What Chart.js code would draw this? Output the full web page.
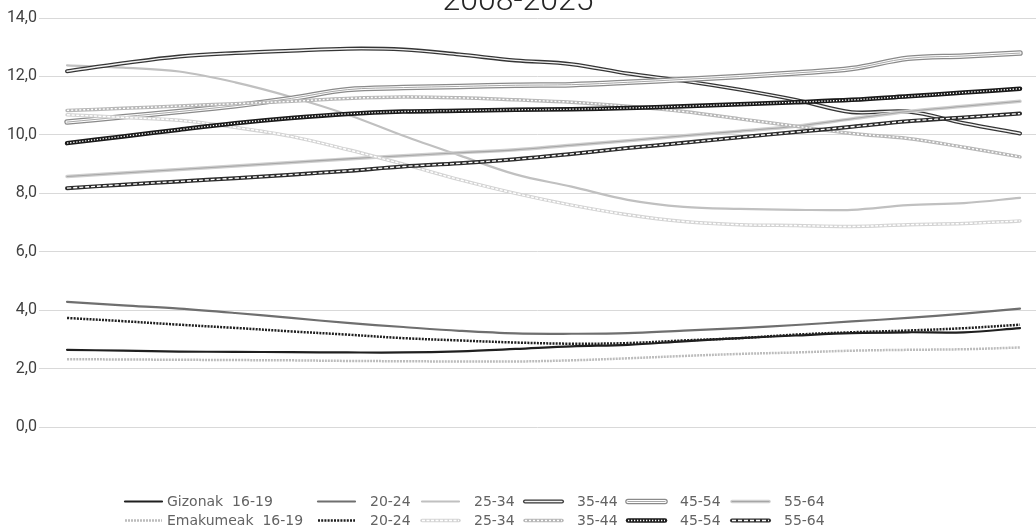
<!DOCTYPE html>
<html>
<head>
<meta charset="utf-8">
<script src="https://cdn.jsdelivr.net/npm/chart.js@4"></script>
<style>
  html, body { margin: 0; padding: 0; background: #ffffff; }
  #wrap { position: relative; width: 1036px; height: 530px; overflow: hidden; }
  #chart { position: absolute; left: 0; top: -20px; }
</style>
</head>
<body>
<div id="wrap"><canvas id="chart" width="1036" height="550"></canvas></div>
<script>
// ---------- Data ----------
const years = [2008, 2009, 2010, 2011, 2012, 2013, 2014, 2015, 2016, 2017, 2018, 2019, 2020, 2021, 2022, 2023, 2024, 2025];
const yTicks = [0, 2, 4, 6, 8, 10, 12, 14];

const seriesNames = [
  'Gizonak  16-19', '20-24', '25-34', '35-44', '45-54', '55-64',
  'Emakumeak  16-19', '20-24', '25-34', '35-44', '45-54', '55-64'
];

const gizonak16_19 = [2.65, 2.62, 2.59, 2.58, 2.57, 2.56, 2.56, 2.6, 2.68, 2.77, 2.82, 2.94, 3.05, 3.14, 3.22, 3.25, 3.25, 3.39];
const gizonak20_24 = [4.29, 4.17, 4.06, 3.91, 3.74, 3.57, 3.43, 3.3, 3.21, 3.2, 3.22, 3.31, 3.39, 3.5, 3.62, 3.74, 3.89, 4.06];
const gizonak25_34 = [12.38, 12.3, 12.17, 11.8, 11.3, 10.7, 9.97, 9.3, 8.65, 8.23, 7.78, 7.54, 7.47, 7.44, 7.44, 7.6, 7.67, 7.85];
const gizonak35_44 = [12.18, 12.45, 12.68, 12.8, 12.88, 12.95, 12.92, 12.75, 12.55, 12.42, 12.1, 11.85, 11.55, 11.2, 10.78, 10.8, 10.4, 10.05];
const gizonak45_54 = [10.44, 10.62, 10.8, 11.0, 11.25, 11.55, 11.62, 11.66, 11.7, 11.72, 11.8, 11.9, 12.0, 12.12, 12.27, 12.62, 12.7, 12.8];
const gizonak55_64 = [8.58, 8.7, 8.82, 8.94, 9.06, 9.18, 9.29, 9.39, 9.49, 9.65, 9.8, 9.97, 10.13, 10.3, 10.55, 10.8, 10.98, 11.15];

const emakumeak16_19 = [2.33, 2.32, 2.31, 2.3, 2.29, 2.27, 2.26, 2.25, 2.25, 2.29, 2.36, 2.44, 2.51, 2.56, 2.62, 2.65, 2.67, 2.73];
const emakumeak20_24 = [3.74, 3.63, 3.51, 3.4, 3.28, 3.17, 3.05, 2.97, 2.9, 2.86, 2.88, 2.97, 3.05, 3.17, 3.25, 3.31, 3.39, 3.51];
const emakumeak25_34 = [10.69, 10.6, 10.5, 10.26, 9.95, 9.5, 9.0, 8.47, 8.0, 7.6, 7.27, 7.04, 6.93, 6.9, 6.87, 6.93, 6.97, 7.06];
const emakumeak35_44 = [10.84, 10.91, 10.99, 11.07, 11.15, 11.25, 11.3, 11.27, 11.2, 11.12, 10.98, 10.8, 10.55, 10.3, 10.05, 9.88, 9.58, 9.25];
const emakumeak45_54 = [9.72, 9.95, 10.18, 10.4, 10.58, 10.72, 10.8, 10.83, 10.86, 10.88, 10.92, 10.98, 11.05, 11.12, 11.2, 11.32, 11.45, 11.58];
const emakumeak55_64 = [8.18, 8.3, 8.41, 8.52, 8.64, 8.77, 8.92, 9.03, 9.17, 9.35, 9.55, 9.73, 9.92, 10.1, 10.28, 10.47, 10.6, 10.73];

const allSeries = [
  gizonak16_19, gizonak20_24, gizonak25_34, gizonak35_44, gizonak45_54, gizonak55_64,
  emakumeak16_19, emakumeak20_24, emakumeak25_34, emakumeak35_44, emakumeak45_54, emakumeak55_64
];

// ---------- Line styles (outer stroke + optional stripes on top) ----------
const lineStyles = [
  [{ color: '#1f1f1f', width: 2.2 }],
  [{ color: '#6f6f6f', width: 2.2 }],
  [{ color: '#c0c0c0', width: 2.2 }],
  [{ color: '#353535', width: 4 }, { color: '#f2f2f2', width: 1.4 }],
  [{ color: '#8a8a8a', width: 5.5 }, { color: '#ffffff', width: 3 }, { color: '#a8a8a8', width: 1 }],
  [{ color: '#cfcfcf', width: 3.5 }, { color: '#a6a6a6', width: 1.1 }],
  [{ color: '#bcbcbc', width: 2.5, dash: [2, 1] }],
  [{ color: '#1f1f1f', width: 2.5, dash: [2, 1.2] }],
  [{ color: '#d4d4d4', width: 3.5 }, { color: '#ffffff', width: 1.4, dash: [3, 1.5] }],
  [{ color: '#b8b8b8', width: 3.5 }, { color: '#ffffff', width: 1.4, dash: [2, 2] }],
  [{ color: '#1a1a1a', width: 4.5 }, { color: '#ffffff', width: 1.3, dash: [1.3, 1.7] }],
  [{ color: '#2c2c2c', width: 4 }, { color: '#ffffff', width: 1.3, dash: [4, 2] }]
];

// ---------- Build datasets ----------
const datasets = [];
let step = 0;
allSeries.forEach((values, s) => {
  lineStyles[s].forEach((st, k) => {
    datasets.push({
      label: k === 0 ? seriesNames[s] : '',
      data: values.map((v, i) => ({ x: i, y: v })),
      borderColor: st.color,
      borderWidth: st.width,
      borderDash: st.dash || [],
      borderCapStyle: st.dash ? 'butt' : 'round',
      borderJoinStyle: 'round',
      tension: 0.35,
      pointRadius: 0,
      fill: false,
      order: 1000 - step
    });
    step++;
  });
});

// ---------- Legend drawn like the spreadsheet one ----------
const legendCols = [125, 318, 422, 525, 628, 732];
const legendRows = [521.5, 540.5];

const sheetLegend = {
  id: 'sheetLegend',
  afterDraw(chart) {
    const ctx = chart.ctx;
    ctx.save();
    ctx.font = '14px "DejaVu Sans", Verdana, sans-serif';
    ctx.textBaseline = 'middle';
    ctx.fillStyle = '#636363';
    seriesNames.forEach((name, s) => {
      const col = s % 6, row = Math.floor(s / 6);
      const x0 = legendCols[col], x1 = x0 + 37, y = legendRows[row];
      lineStyles[s].forEach(st => {
        ctx.beginPath();
        ctx.strokeStyle = st.color;
        ctx.lineWidth = st.width;
        ctx.setLineDash(st.dash || []);
        ctx.lineCap = st.dash ? 'butt' : 'round';
        ctx.moveTo(x0, y);
        ctx.lineTo(x1, y);
        ctx.stroke();
      });
      ctx.setLineDash([]);
      ctx.fillText(name, x1 + (col === 0 ? 5 : 15), y + 1);
    });
    ctx.restore();
  }
};

// ---------- Chart ----------
const ctx = document.getElementById('chart').getContext('2d');
new Chart(ctx, {
  type: 'line',
  data: { datasets },
  plugins: [sheetLegend],
  options: {
    responsive: false,
    animation: false,
    devicePixelRatio: 1,
    layout: { padding: { left: 0, right: 0, top: 0, bottom: 102.7 } },
    scales: {
      x: {
        type: 'linear',
        display: false,
        min: -0.5,
        max: 17.285
      },
      y: {
        min: yTicks[0],
        max: yTicks[yTicks.length - 1],
        afterFit: (scale) => { scale.width = 39; },
        afterBuildTicks: (scale) => { scale.ticks = yTicks.map(v => ({ value: v })); },
        border: { display: false },
        grid: { color: '#d9d9d9', lineWidth: 1, drawTicks: false },
        ticks: {
          padding: 2,
          color: '#404040',
          font: { family: 'Roboto', size: 16 },
          callback: (v) => v.toFixed(1).replace('.', ',')
        }
      }
    },
    plugins: {
      legend: { display: false },
      tooltip: { enabled: false },
      title: {
        display: true,
        text: years[0] + '-' + years[years.length - 1],
        color: '#262626',
        font: { family: 'Roboto', size: 32, weight: '300', lineHeight: 1.0 },
        padding: { top: 6, bottom: 0 }
      }
    }
  }
});
</script>
</body>
</html>
